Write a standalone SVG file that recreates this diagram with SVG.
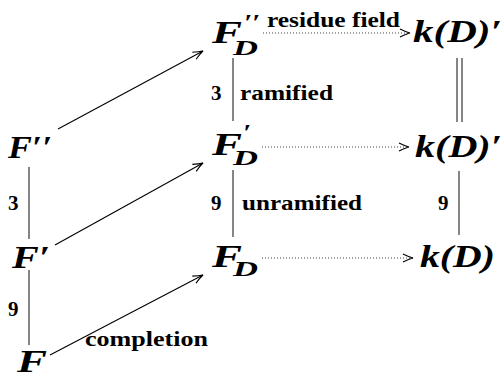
<svg xmlns="http://www.w3.org/2000/svg" width="504" height="378" viewBox="0 0 504 378">
<style>
.m{font-family:"Liberation Serif","DejaVu Serif",serif;font-weight:bold;font-style:italic;font-size:32px;fill:#000}
.p{font-family:"Liberation Serif","DejaVu Serif",serif;font-weight:bold;font-style:italic;font-size:24px;fill:#000}
.s{font-family:"Liberation Serif","DejaVu Serif",serif;font-weight:bold;font-style:italic;font-size:22px;fill:#000}
.r{font-family:"Liberation Serif","DejaVu Serif",serif;font-weight:bold;font-size:21px;fill:#000}
.v{stroke:#444;stroke-width:1.3;fill:none}
.a{stroke:#000;stroke-width:1.1;fill:none}
.d{stroke:#444;stroke-width:1.1;fill:none;stroke-dasharray:1 2}
</style>
<defs>
<marker id="ah" viewBox="0 0 12 10" refX="11" refY="5" markerWidth="12" markerHeight="10" markerUnits="userSpaceOnUse" orient="auto">
<path d="M1,1 Q7,4 11,5 Q7,6 1,9" fill="none" stroke="#000" stroke-width="1.1"/>
</marker>
</defs>
<g id="Fpp"><text class="m" x="8" y="158" textLength="44" lengthAdjust="spacingAndGlyphs">F′′</text></g>
<g id="Fp"><text class="m" x="12" y="268" textLength="38" lengthAdjust="spacingAndGlyphs">F′</text></g>
<g id="F"><text class="m" x="17" y="372" textLength="30" lengthAdjust="spacingAndGlyphs">F</text></g>
<g id="FDpp"><text class="m" x="212" y="43" textLength="30" lengthAdjust="spacingAndGlyphs">F</text><text class="p" x="244" y="30" textLength="16" lengthAdjust="spacingAndGlyphs">′′</text><text class="s" x="233" y="55" textLength="25" lengthAdjust="spacingAndGlyphs">D</text></g>
<g id="FDp"><text class="m" x="212" y="155" textLength="30" lengthAdjust="spacingAndGlyphs">F</text><text class="p" x="243" y="140" textLength="8" lengthAdjust="spacingAndGlyphs">′</text><text class="s" x="233" y="165" textLength="25" lengthAdjust="spacingAndGlyphs">D</text></g>
<g id="FD"><text class="m" x="212" y="267" textLength="30" lengthAdjust="spacingAndGlyphs">F</text><text class="s" x="233" y="276" textLength="25" lengthAdjust="spacingAndGlyphs">D</text></g>
<g id="kDp1"><text class="m" x="413" y="42" textLength="89" lengthAdjust="spacingAndGlyphs">k(D)′</text></g>
<g id="kDp2"><text class="m" x="415" y="157" textLength="87" lengthAdjust="spacingAndGlyphs">k(D)′</text></g>
<g id="kD"><text class="m" x="420" y="267" textLength="75" lengthAdjust="spacingAndGlyphs">k(D)</text></g>
<g id="connectors">
<line class="v" x1="29" y1="167" x2="29" y2="239"/>
<line class="v" x1="29" y1="270" x2="29" y2="345"/>
<line class="v" x1="233" y1="58" x2="233" y2="121"/>
<line class="v" x1="233" y1="170" x2="233" y2="237"/>
<line class="v" x1="457" y1="58" x2="457" y2="122"/>
<line class="v" x1="462" y1="58" x2="462" y2="122"/>
<line class="v" x1="459" y1="171" x2="459" y2="235"/>
<line class="a" x1="58" y1="129" x2="203" y2="51" marker-end="url(#ah)"/>
<line class="a" x1="55" y1="245" x2="203" y2="163" marker-end="url(#ah)"/>
<line class="a" x1="50" y1="355" x2="203" y2="275" marker-end="url(#ah)"/>
<line class="d" x1="263" y1="33" x2="410" y2="33" marker-end="url(#ah)"/>
<line class="d" x1="262" y1="147" x2="409" y2="147" marker-end="url(#ah)"/>
<line class="d" x1="262" y1="258" x2="413" y2="258" marker-end="url(#ah)"/>
<text class="r" x="8" y="210">3</text>
<text class="r" x="8" y="316">9</text>
<text class="r" x="211" y="100">3</text>
<text class="r" x="240" y="100" textLength="93" lengthAdjust="spacingAndGlyphs">ramified</text>
<text class="r" x="211" y="210">9</text>
<text class="r" x="242" y="210" textLength="120" lengthAdjust="spacingAndGlyphs">unramified</text>
<text class="r" x="438" y="210">9</text>
<text class="r" x="267" y="27" textLength="133" lengthAdjust="spacingAndGlyphs">residue field</text>
<text class="r" x="85" y="346" textLength="123" lengthAdjust="spacingAndGlyphs">completion</text>
</g>
</svg>
